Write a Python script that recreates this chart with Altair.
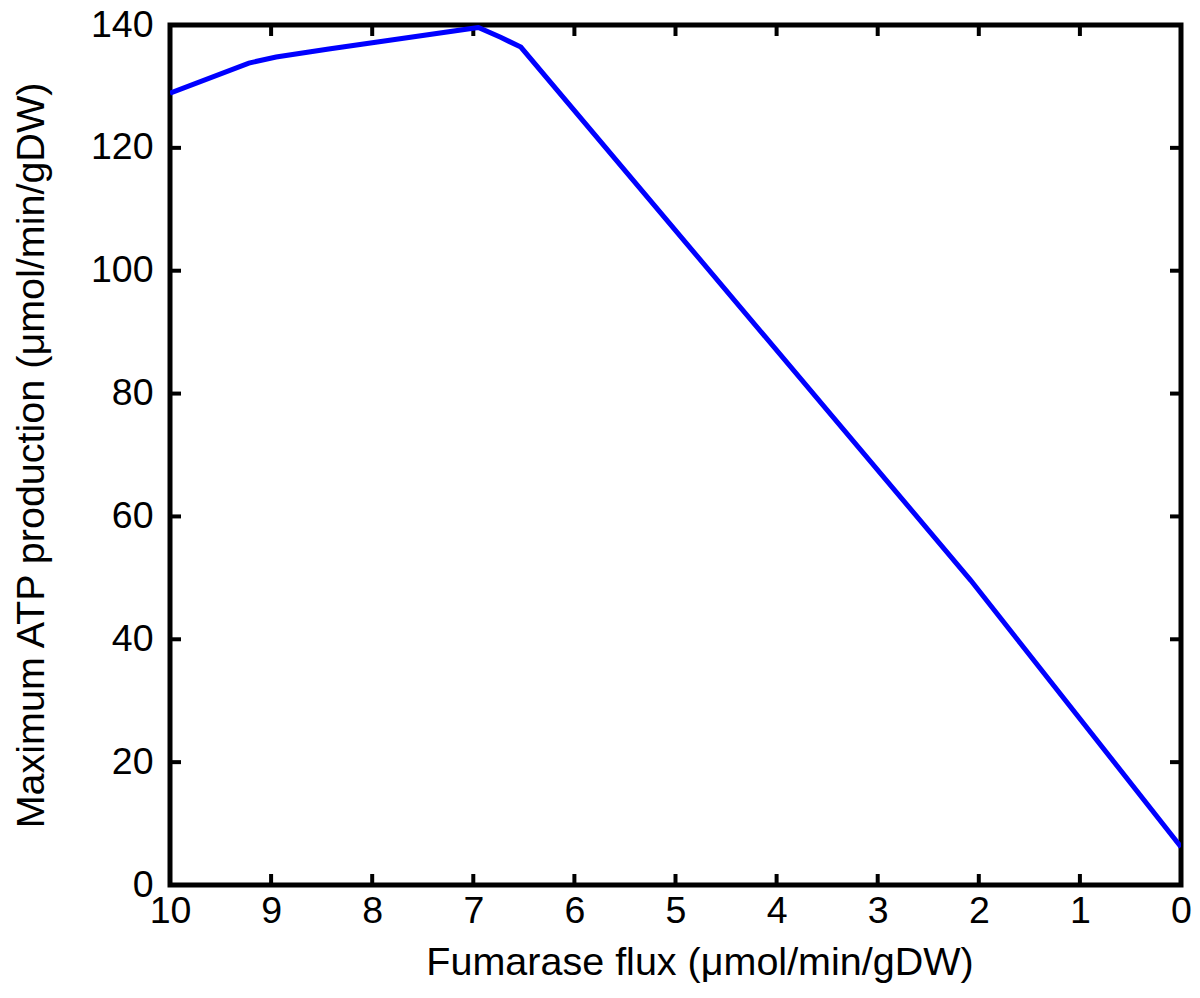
import altair as alt
import pandas as pd

flux = [10.0, 9.22, 8.95, 8.43, 6.95, 6.73, 6.53, 2.08, 0.0]
atp = [128.9, 133.8, 134.8, 136.1, 139.6, 138.0, 136.4, 49.6, 6.2]
xticks = [0, 1, 2, 3, 4, 5, 6, 7, 8, 9, 10]
yticks = [0, 20, 40, 60, 80, 100, 120, 140]

W, H = 1011, 860
FONT = "Liberation Sans"
LFS = 37.5
TFS = 39.5
df = pd.DataFrame({"flux": flux, "atp": atp})
dx = pd.DataFrame({"t": xticks})
dy = pd.DataFrame({"t": yticks})

xs = alt.Scale(domain=[10, 0], nice=False, zero=False)
ys = alt.Scale(domain=[0, 140], nice=False)

common = dict(labelFont=FONT, titleFont=FONT, labelFontSize=LFS, titleFontSize=TFS,
              labelColor="black", titleColor="black", titleFontWeight="normal",
              ticks=False, domain=False, grid=False, labelFlush=False, labelOverlap=False)

line = alt.Chart(df).mark_line(color="#0000ff", strokeWidth=5, clip=True).encode(
    x=alt.X("flux:Q", scale=xs,
            axis=alt.Axis(values=xticks, format="d", title="Fumarase flux (μmol/min/gDW)",
                          labelPadding=7, titlePadding=14, titleX=W / 2 + 24, **common)),
    y=alt.Y("atp:Q", scale=ys,
            axis=alt.Axis(values=yticks, format="d", title="Maximum ATP production (μmol/min/gDW)",
                          labelPadding=17, titlePadding=39, **common)),
)

tk = dict(color="black", strokeWidth=4)
bt = alt.Chart(dx).mark_rule(**tk).encode(x=alt.X("t:Q", scale=xs), y=alt.value(H), y2=alt.value(H - 11))
tp = alt.Chart(dx).mark_rule(**tk).encode(x=alt.X("t:Q", scale=xs), y=alt.value(0), y2=alt.value(11))
lf = alt.Chart(dy).mark_rule(**tk).encode(y=alt.Y("t:Q", scale=ys), x=alt.value(0), x2=alt.value(11))
rt = alt.Chart(dy).mark_rule(**tk).encode(y=alt.Y("t:Q", scale=ys), x=alt.value(W), x2=alt.value(W - 11))

chart = alt.layer(bt, tp, lf, rt, line).properties(
    width=W, height=H,
    autosize=alt.AutoSizeParams(type="none"),
    padding={"left": 162, "top": 17, "right": 11, "bottom": 102},
).configure_view(stroke="black", strokeWidth=5)

chart.save("out.html", embed_options={"renderer": "svg", "actions": False})
